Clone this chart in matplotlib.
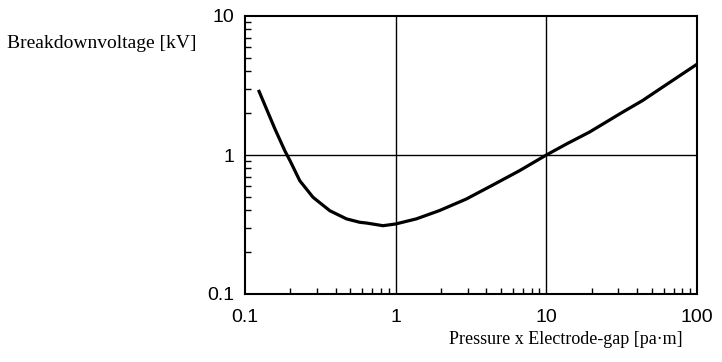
import matplotlib.pyplot as plt
from matplotlib.ticker import LogLocator, FixedLocator, NullFormatter

# curve (pressure x gap [pa.m], voltage [kV])
pd_vals = [0.124, 0.139, 0.158, 0.184, 0.199, 0.231, 0.283, 0.366, 0.472,
           0.578, 0.64, 0.824, 1.0, 1.37, 1.95, 2.94, 4.41, 6.62, 10.0,
           13.8, 19.3, 32.0, 43.4, 58.9, 100.0]
volts = [2.87, 2.14, 1.54, 1.07, 0.91, 0.653, 0.496, 0.397, 0.347,
         0.328, 0.324, 0.31, 0.319, 0.347, 0.398, 0.482, 0.608, 0.77, 1.0,
         1.21, 1.46, 2.03, 2.46, 3.07, 4.5]

x_ticks = [0.1, 1, 10, 100]
x_labels = ["0.1", "1", "10", "100"]
y_ticks = [0.1, 1, 10]
y_labels = ["0.1", "1", "10"]

fig = plt.figure(figsize=(7.22, 3.62), dpi=100)
ax = fig.add_axes([245 / 722, 1 - 294 / 362, 452 / 722, 278 / 362])

ax.plot(pd_vals, volts, color="black", lw=2.3, solid_joinstyle="round")
ax.set_xscale("log")
ax.set_yscale("log")
ax.set_xlim(0.1, 100)
ax.set_ylim(0.1, 10)

# gridlines only at 1 (both) and 10 (x)
for gx in [1, 10]:
    ax.axvline(gx, color="black", lw=1.0, zorder=0)
ax.axhline(1, color="black", lw=1.0, zorder=0)

ax.xaxis.set_major_locator(FixedLocator(x_ticks))
ax.set_xticklabels(x_labels)
ax.yaxis.set_major_locator(FixedLocator(y_ticks))
ax.set_yticklabels(y_labels)
ax.xaxis.set_minor_locator(LogLocator(base=10, subs=range(2, 10)))
ax.yaxis.set_minor_locator(LogLocator(base=10, subs=range(2, 10)))
ax.xaxis.set_minor_formatter(NullFormatter())
ax.yaxis.set_minor_formatter(NullFormatter())

ax.tick_params(which="major", direction="in", length=0, labelsize=14,
               labelfontfamily="Liberation Sans")
ax.tick_params(axis="x", which="major", pad=11)
ax.tick_params(axis="y", which="major", pad=8)
ax.tick_params(which="minor", direction="in", length=4, width=1)
ax.tick_params(top=False, right=False, which="both")

for s in ax.spines.values():
    s.set_linewidth(1.5)

fig.text(7 / 722, 1 - 43 / 362, "Breakdownvoltage [kV]", fontsize=14,
         family="Liberation Serif", ha="left", va="center")
fig.text(683 / 722, 1 - 340 / 362, "Pressure x Electrode-gap [pa\u00b7m]",
         fontsize=13, family="Liberation Serif", ha="right", va="center")

fig.savefig("out.png", dpi=100)
